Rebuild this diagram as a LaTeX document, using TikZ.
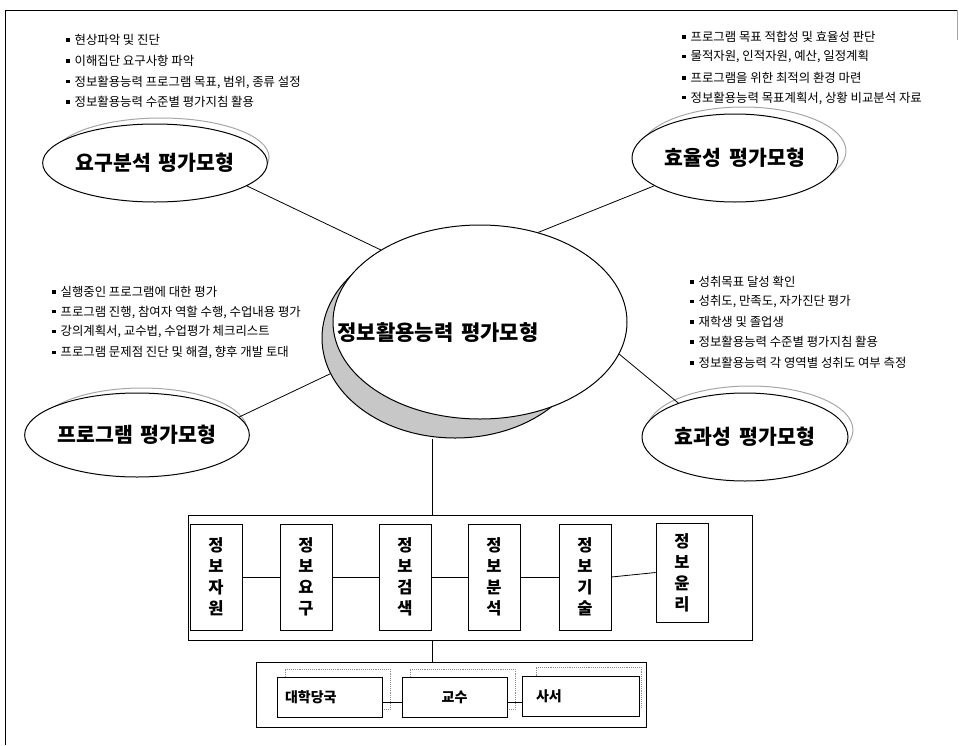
\documentclass[tikz,border=0pt]{standalone}
\usepackage{fontspec}
\setmainfont{Noto Sans CJK KR}
\usetikzlibrary{shapes.geometric}
\newcommand{\mybul}{\rule[2.8pt]{3.4pt}{3.4pt}\hspace{5pt}}
\begin{document}
\begin{tikzpicture}[x=1pt,y=-1pt,
  bl/.style={anchor=west,inner sep=0pt,font=\fontsize{12.4}{14}\selectfont},
  ell/.style={ellipse,draw,line width=1pt,fill=white,inner sep=0pt,font=\fontsize{20.5}{23}\selectfont\bfseries},
  ellsh/.style={ellipse,draw=black!35,line width=1pt,inner sep=0pt},
  conn/.style={draw,line width=0.8pt},
  vbox/.style={draw,line width=0.8pt,fill=white,minimum width=52pt,minimum height=106pt,inner sep=0pt,align=center,font=\fontsize{16.5}{21}\selectfont\bfseries},
  frame/.style={draw,line width=0.8pt},
  lowbox/.style={draw,line width=0.8pt,fill=white,minimum width=105pt,minimum height=40pt,inner sep=0pt,font=\fontsize{14}{16}\selectfont\bfseries},
  lowsh/.style={draw=black!45,densely dotted,line width=0.9pt,minimum width=105pt,minimum height=40pt,inner sep=0pt}
]
\useasboundingbox (0,0) rectangle (959,745);
% outer frame
\draw[line width=0.8pt] (5,745) -- (5,10) -- (957,10);
\draw[black!35,line width=0.6pt] (957,10) -- (957,40);

% top-left bullets
\node[bl] (tl1) at (66,40) {\mybul 현상파악 및 진단};
\node[bl] (tl2) at (66,61) {\mybul 이해집단 요구사항 파악};
\node[bl] (tl3) at (66,82) {\mybul 정보활용능력 프로그램 목표, 범위, 종류 설정};
\node[bl] (tl4) at (66,102) {\mybul 정보활용능력 수준별 평가지침 활용};
% top-right bullets
\node[bl] (tr1) at (682,37) {\mybul 프로그램 목표 적합성 및 효율성 판단};
\node[bl] (tr2) at (682,57) {\mybul 물적자원, 인적자원, 예산, 일정계획};
\node[bl] (tr3) at (682,78) {\mybul 프로그램을 위한 최적의 환경 마련};
\node[bl] (tr4) at (682,98) {\mybul 정보활용능력 목표계획서, 상황 비교분석 자료};
% middle-left bullets
\node[bl] (ml1) at (52,292) {\mybul 실행중인 프로그램에 대한 평가};
\node[bl] (ml2) at (52,312) {\mybul 프로그램 진행, 참여자 역할 수행, 수업내용 평가};
\node[bl] (ml3) at (52,332) {\mybul 강의계획서, 교수법, 수업평가 체크리스트};
\node[bl] (ml4) at (52,353) {\mybul 프로그램 문제점 진단 및 해결, 향후 개발 토대};
% middle-right bullets
\node[bl] (mr1) at (690,282) {\mybul 성취목표 달성 확인};
\node[bl] (mr2) at (690,302) {\mybul 성취도, 만족도, 자가진단 평가};
\node[bl] (mr3) at (690,322) {\mybul 재학생 및 졸업생};
\node[bl] (mr4) at (690,342) {\mybul 정보활용능력 수준별 평가지침 활용};
\node[bl] (mr5) at (690,363) {\mybul 정보활용능력 각 영역별 성취도 여부 측정};

% central ellipse
\node[ellipse,draw,line width=1pt,fill=black!22,minimum width=266pt,minimum height=200pt,inner sep=0pt] (cshade) at (455,338) {};
\node[ellipse,draw,line width=1pt,fill=white,minimum width=294pt,minimum height=194pt,inner sep=0pt] (cen) at (480,322) {};
\node[font=\fontsize{21}{24}\selectfont\bfseries,inner sep=0pt] (ctitle) at (438,333) {정보활용능력\hspace{8pt}평가모형};

% four model ellipses with shadows
\node[ellsh,minimum width=216pt,minimum height=78pt] (reqsh) at (161,157) {};
\node[ell,minimum width=216pt,minimum height=78pt] (req) at (155,163) {요구분석\hspace{8pt}평가모형};
\node[ellsh,minimum width=206pt,minimum height=88pt] (effish) at (743,151) {};
\node[ell,minimum width=206pt,minimum height=88pt] (effi) at (735,158) {효율성\hspace{8pt}평가모형};
\node[ellsh,minimum width=210pt,minimum height=84pt] (progsh) at (142,430) {};
\node[ell,minimum width=210pt,minimum height=84pt] (prog) at (137,435) {프로그램\hspace{8pt}평가모형};
\node[ellsh,minimum width=206pt,minimum height=88pt] (effcsh) at (750,430) {};
\node[ell,minimum width=206pt,minimum height=88pt] (effc) at (745,437) {효과성\hspace{8pt}평가모형};

% connectors to central
\draw[conn] (req.-14) -- (cen.144.6);
\draw[conn] (effi.199) -- (cen.57);
\draw[conn] (prog.10) -- (cshade.196);
\draw[conn] (effc.153) -- (cen.-13);

% information box
\node[frame,minimum width=564pt,minimum height=125pt,inner sep=0pt] (info) at (470,577.5) {};
\node[vbox] (b1) at (216,577) {정\\보\\자\\원};
\node[vbox] (b2) at (306,577) {정\\보\\요\\구};
\node[vbox] (b3) at (405,577) {정\\보\\검\\색};
\node[vbox] (b4) at (494,577) {정\\보\\분\\석};
\node[vbox] (b5) at (585,577) {정\\보\\기\\술};
\node[vbox,minimum height=99pt] (b6) at (682,572.5) {정\\보\\윤\\리};
\draw[conn] (b1.east) -- (b2.west);
\draw[conn] (b2.east) -- (b3.west);
\draw[conn] (b3.east) -- (b4.west);
\draw[conn] (b4.east) -- (b5.west);
\draw[conn] (b5.east) -- (b6.west);

% lower box
\node[frame,minimum width=390pt,minimum height=65pt,inner sep=0pt] (low) at (451,694.5) {};
\node[lowsh] (l1s) at (337.5,689) {};
\node[lowsh] (l2s) at (462.5,689) {};
\node[lowsh] (l3s) at (588.5,687) {};
\node[lowbox,text width=89pt,align=left,inner xsep=8pt] (l1) at (329.5,697) {대학당국};
\node[lowbox] (l2) at (454.5,697) {교수};
\node[lowbox,text width=89pt,align=left,inner xsep=14pt] (l3) at (580.5,696) {사서};
\coordinate (lc) at (0,702);
\draw[conn] (l1.east |- lc) -- (l2.west |- lc);
\draw[conn] (l2.east |- lc) -- (l3.west |- lc);

% vertical ticks
\coordinate (tk) at (432,0);
\draw[conn] (tk |- cshade.south) -- (tk |- info.north);
\draw[conn] (tk |- info.south) -- (tk |- low.north);
\end{tikzpicture}
\end{document}
